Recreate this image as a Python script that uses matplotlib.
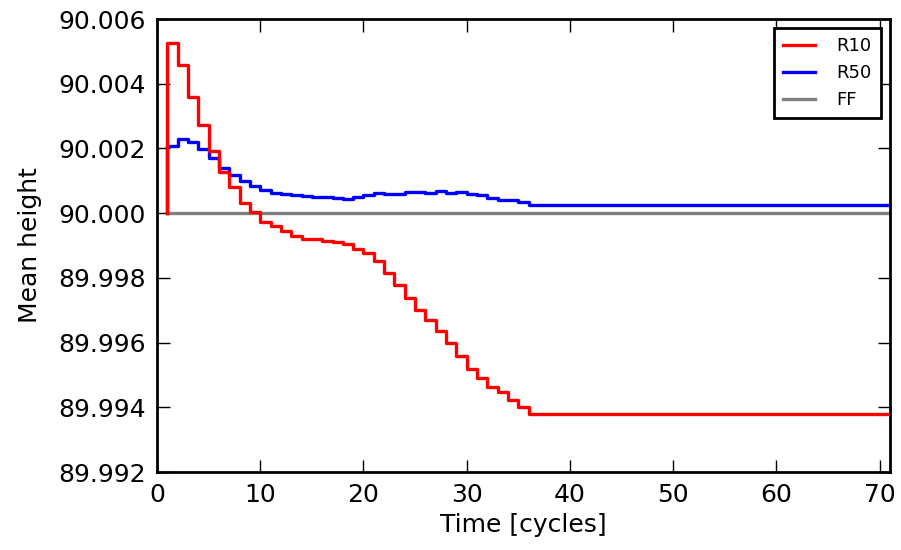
import matplotlib
matplotlib.use("Agg")
import matplotlib.pyplot as plt
import numpy as np

# cycle boundaries: value i holds over (cycles[i-1], cycles[i]]
cycles = list(range(1, 37)) + [71]

# mean height deviations from 90 (x 1e-3)
r10_dev = [0.0, 5.25, 4.57, 3.59, 2.71, 1.92, 1.28, 0.81, 0.32, 0.02,
           -0.27, -0.40, -0.56, -0.71, -0.79, -0.81, -0.87, -0.90, -0.95,
           -1.10, -1.23, -1.48, -1.85, -2.23, -2.62, -2.98, -3.29, -3.63,
           -4.01, -4.40, -4.81, -5.11, -5.38, -5.53, -5.79, -6.00, -6.20]
r50_dev = [0.0, 2.07, 2.28, 2.20, 1.97, 1.71, 1.40, 1.17, 0.99, 0.83,
           0.70, 0.63, 0.60, 0.56, 0.53, 0.50, 0.50, 0.47, 0.44,
           0.50, 0.56, 0.63, 0.60, 0.60, 0.65, 0.65, 0.63, 0.68,
           0.63, 0.65, 0.60, 0.55, 0.47, 0.42, 0.42, 0.34, 0.25]
ff_dev = [0.0] * len(cycles)

base = 90.0
r10 = base + np.array(r10_dev) * 1e-3
r50 = base + np.array(r50_dev) * 1e-3
ff = base + np.array(ff_dev) * 1e-3

fig = plt.figure(figsize=(9.01, 5.5), dpi=100)
ax = fig.add_axes([157 / 901, 1 - 472 / 550, (890 - 157) / 901, (472 - 19) / 550])

ax.step(cycles, ff, where="pre", color="0.5", lw=2.4, label="FF", zorder=2)
ax.step(cycles, r50, where="pre", color="blue", lw=2.4, label="R50", zorder=3)
ax.step(cycles, r10, where="pre", color="red", lw=2.4, label="R10", zorder=4)

ax.set_xlim(0, 71)
ax.set_ylim(89.992, 90.006)
ax.set_xticks(np.arange(0, 71, 10))
ax.set_yticks(np.arange(89.992, 90.0065, 0.002))
ax.yaxis.set_major_formatter(matplotlib.ticker.FormatStrFormatter("%.3f"))

ax.tick_params(direction="in", top=True, right=True, length=9, width=1,
               labelsize=18, pad=8)
for s in ax.spines.values():
    s.set_linewidth(2)

ax.set_xlabel("Time [cycles]", fontsize=18, labelpad=4)
ax.set_ylabel("Mean height", fontsize=18, labelpad=12)

h, l = ax.get_legend_handles_labels()
order = [2, 1, 0]
leg = ax.legend([h[i] for i in order], [l[i] for i in order], loc="upper right",
                fontsize=13, fancybox=False, framealpha=1, borderaxespad=0.5,
                handlelength=1.8, handletextpad=1.2, borderpad=0.5)
leg.get_frame().set_edgecolor("black")
leg.get_frame().set_linewidth(2)

fig.savefig("out.png", dpi=100)
